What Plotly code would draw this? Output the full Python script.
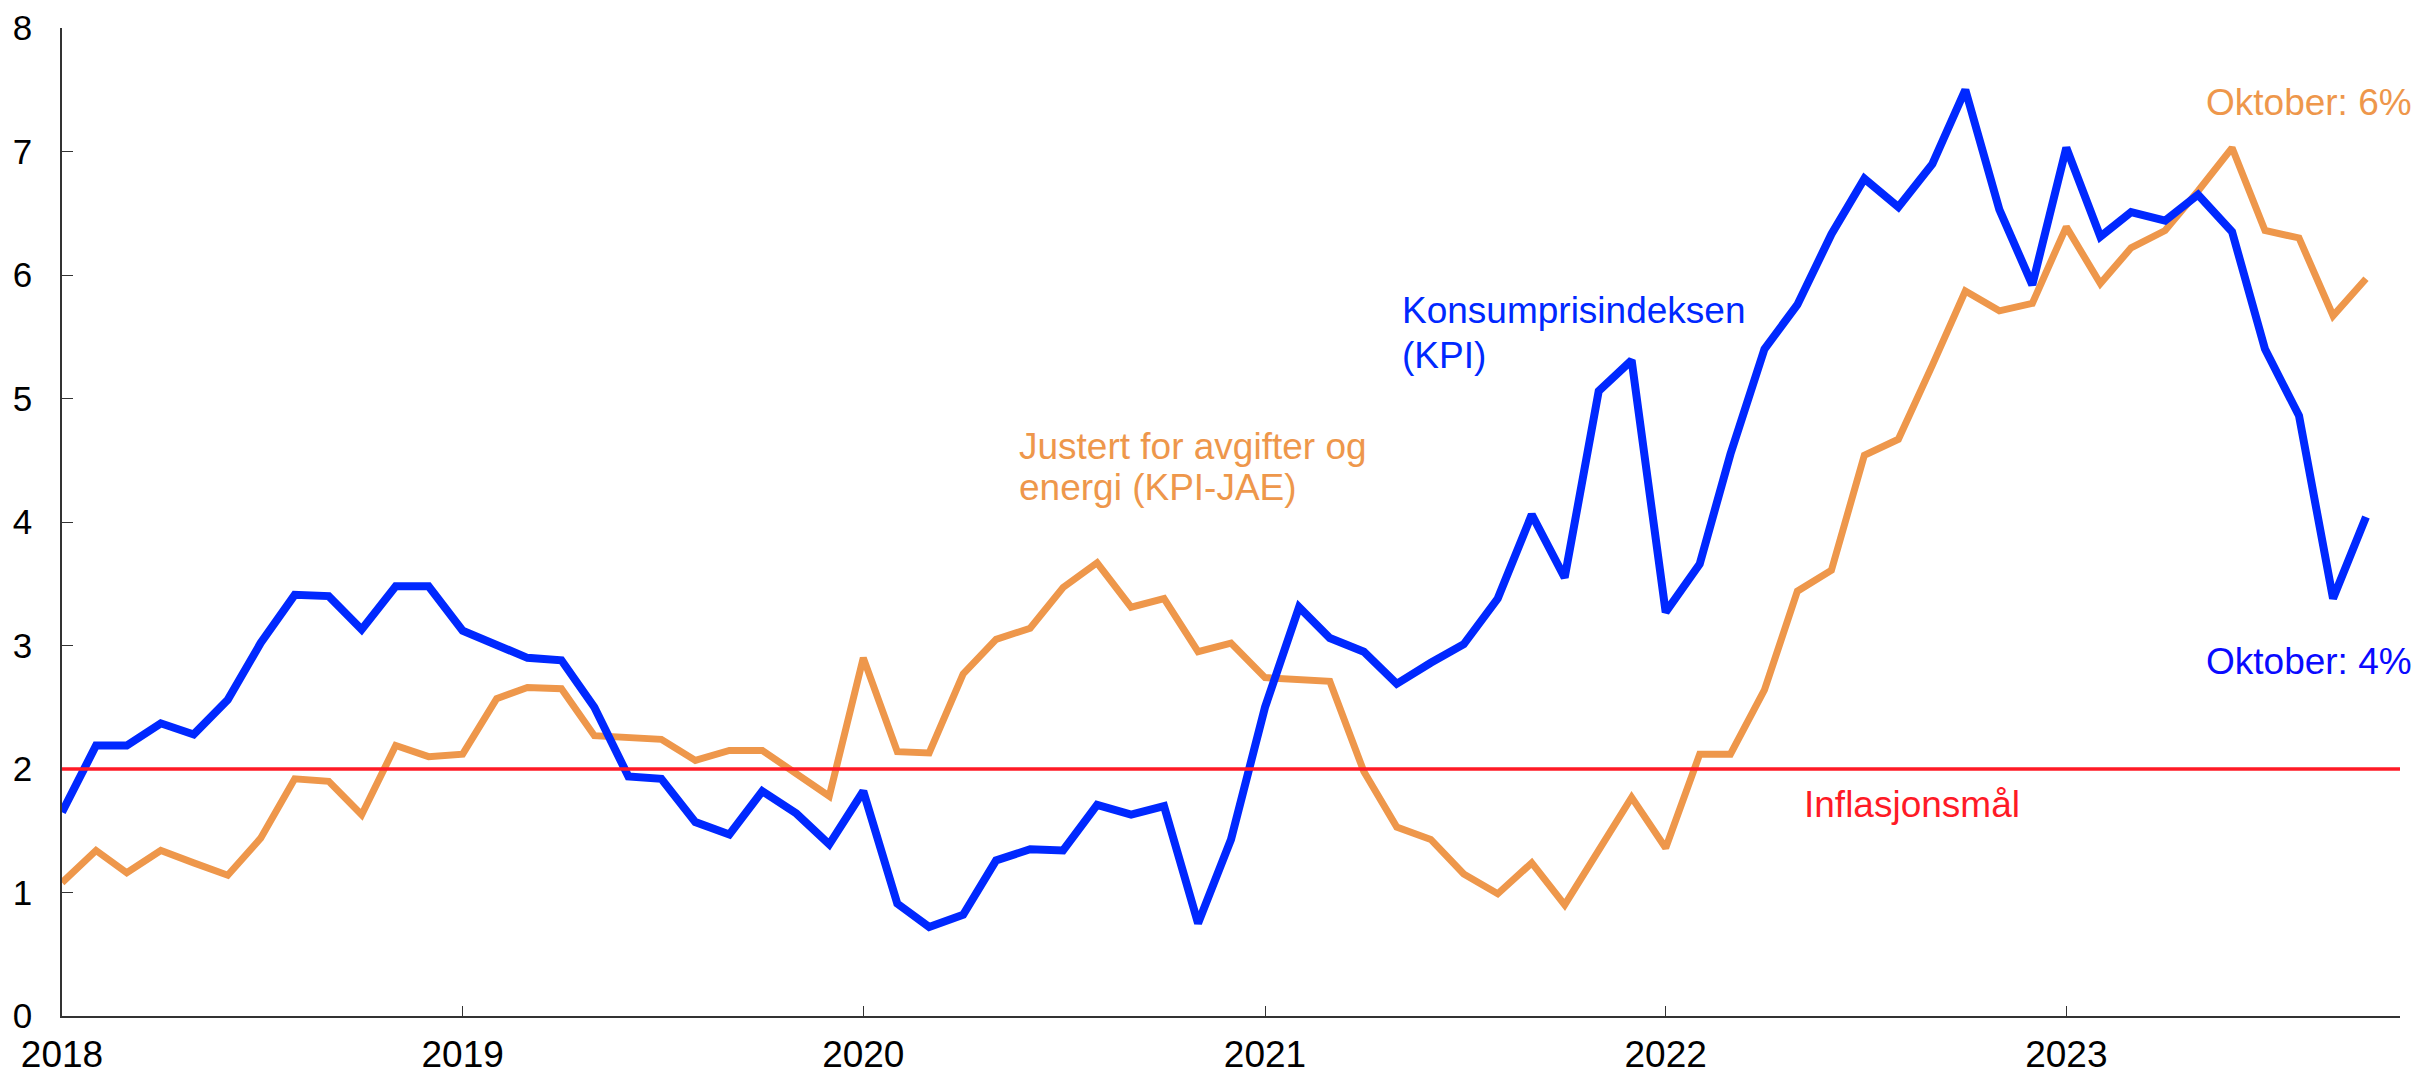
import pandas as pd
import plotly.graph_objects as go

# monthly observations Jan 2018 - Oct 2023
months = pd.date_range("2018-01-01", periods=70, freq="MS")

kpi = [
    1.65, 2.19, 2.19, 2.37, 2.28, 2.56, 3.02, 3.41, 3.40, 3.13, 3.48, 3.48,
    3.12, 3.00, 2.90, 2.88, 2.50, 1.94, 1.92, 1.57, 1.47, 1.82, 1.64, 1.39,
    1.82, 0.91, 0.72, 0.82, 1.26, 1.35, 1.34, 1.71, 1.63, 1.70, 0.75, 1.43,
    2.50, 3.31, 3.06, 2.95, 2.69, 2.86, 3.01, 3.38, 4.06, 3.55, 5.06, 5.31,
    3.27, 3.66, 4.55, 5.40, 5.76, 6.33, 6.78, 6.55, 6.90, 7.50, 6.53, 5.92,
    7.03, 6.31, 6.51, 6.44, 6.65, 6.35, 5.40, 4.86, 3.38, 4.04,
]

kpi_jae = [
    1.08, 1.34, 1.16, 1.34, 1.24, 1.14, 1.44, 1.92, 1.90, 1.63, 2.19, 2.10,
    2.12, 2.57, 2.66, 2.65, 2.27, 2.26, 2.24, 2.07, 2.15, 2.15, 1.96, 1.78,
    2.90, 2.14, 2.13, 2.77, 3.05, 3.14, 3.47, 3.67, 3.31, 3.38, 2.95, 3.02,
    2.74, 2.72, 2.71, 1.98, 1.53, 1.43, 1.15, 0.99, 1.24, 0.90, 1.33, 1.77,
    1.36, 2.12, 2.12, 2.64, 3.44, 3.61, 4.54, 4.67, 5.27, 5.87, 5.71, 5.77,
    6.39, 5.93, 6.22, 6.36, 6.68, 7.03, 6.36, 6.30, 5.67, 5.97,
]

inflation_target = 2
year_ticks = ["2018-01-01", "2019-01-01", "2020-01-01", "2021-01-01", "2022-01-01", "2023-01-01"]
year_labels = ["2018", "2019", "2020", "2021", "2022", "2023"]
y_ticks = [0, 1, 2, 3, 4, 5, 6, 7, 8]

BLUE = "#0028ff"
ORANGE = "#ee974b"
RED = "#ff1a26"
FONT = "Liberation Sans, Arial, sans-serif"

fig = go.Figure()
fig.add_hline(y=inflation_target, line_color=RED, line_width=3.5)
fig.add_trace(go.Scatter(x=months, y=kpi_jae, mode="lines",
                         line=dict(color=ORANGE, width=7), name="KPI-JAE"))
fig.add_trace(go.Scatter(x=months, y=kpi, mode="lines",
                         line=dict(color=BLUE, width=8), name="KPI"))

# one annotation per text line, so the tight line spacing can be kept
notes = [
    ("Konsumprisindeksen", "2021-05-07", 5.71, BLUE),
    ("(KPI)", "2021-05-07", 5.35, BLUE),
    ("Justert for avgifter og", "2020-05-23", 4.61, ORANGE),
    ("energi (KPI-JAE)", "2020-05-23", 4.28, ORANGE),
    ("Oktober: 6%", "2023-05-09", 7.40, ORANGE),
    ("Oktober: 4%", "2023-05-09", 2.87, "#0a0aff"),
    ("Inflasjonsmål", "2022-05-08", 1.71, RED),
]
for text, x, y, color in notes:
    fig.add_annotation(x=x, y=y, text=text, showarrow=False, xanchor="left",
                       yanchor="middle", align="left", xshift=-3,
                       font=dict(family=FONT, size=37, color=color))

# the page body adds an 8px offset, so margins are shifted to compensate
fig.update_layout(
    width=2422, height=1073,
    showlegend=False,
    plot_bgcolor="white", paper_bgcolor="white",
    margin=dict(l=54, r=30, t=20, b=65),
    font=dict(family=FONT, size=36, color="black"),
)
fig.update_xaxes(
    range=["2018-01-01", "2023-11-01"],
    tickvals=year_ticks, ticktext=year_labels,
    tickfont=dict(size=37),
    ticks="inside", ticklen=10, tickcolor="#333333",
    showline=True, linecolor="#333333", linewidth=1.5,
    showgrid=False, zeroline=False, automargin=False, ticklabelstandoff=5,
)
fig.update_yaxes(
    range=[0, 8], tickvals=y_ticks,
    tickfont=dict(size=35),
    ticks="inside", ticklen=11, tickcolor="#333333",
    showline=True, linecolor="#333333", linewidth=1.5,
    showgrid=False, zeroline=False, automargin=False, ticklabelstandoff=21,
)

fig.write_html("out.html")
